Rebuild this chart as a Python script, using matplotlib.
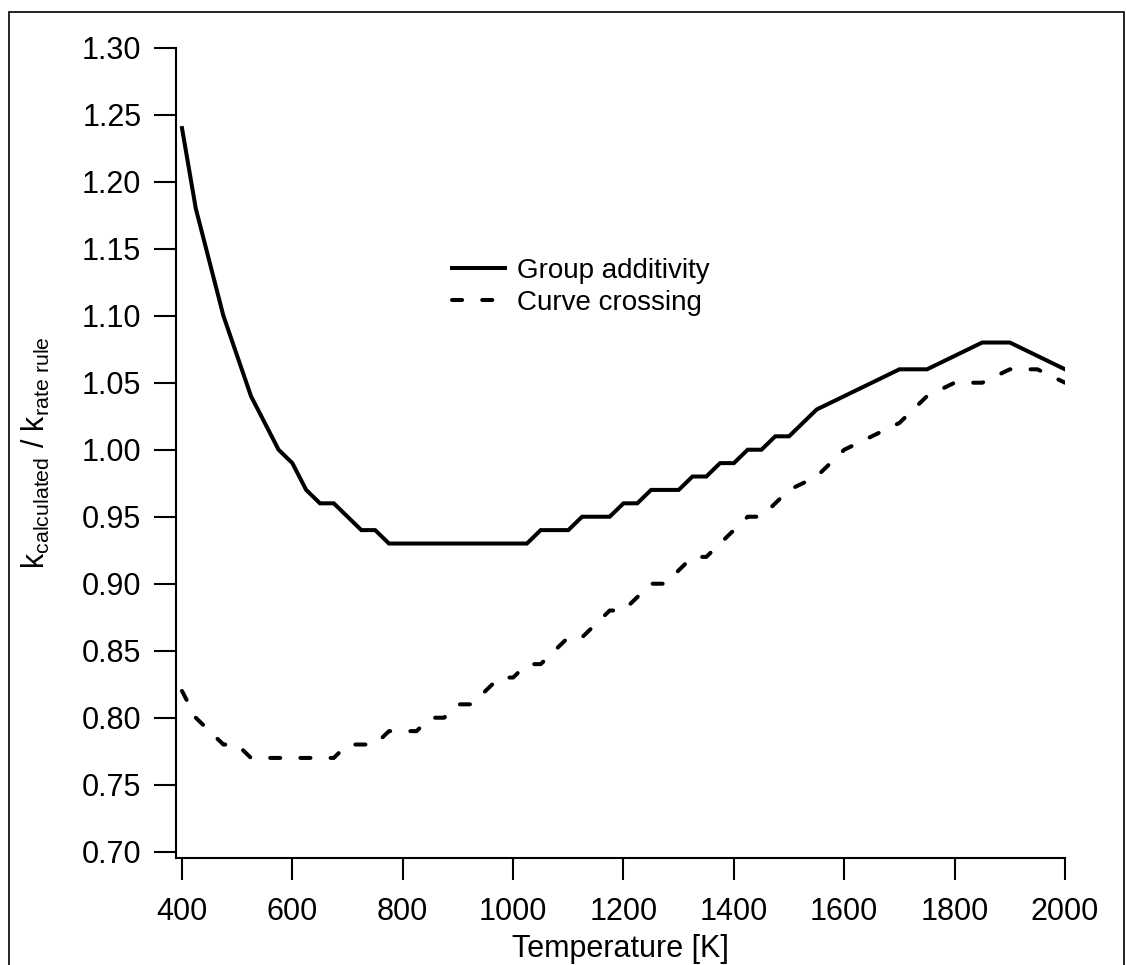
import matplotlib
matplotlib.use("Agg")
import matplotlib.pyplot as plt
from matplotlib.patches import Rectangle
from matplotlib.ticker import FormatStrFormatter

# temperature grid: 25 K steps up to 1500 K, then 50 K steps
temperature = [400, 425, 450, 475, 500, 525, 550, 575, 600, 625, 650, 675, 700,
               725, 750, 775, 800, 825, 850, 875, 900, 925, 950, 975, 1000,
               1025, 1050, 1075, 1100, 1125, 1150, 1175, 1200, 1225, 1250,
               1275, 1300, 1325, 1350, 1375, 1400, 1425, 1450, 1475, 1500,
               1550, 1600, 1650, 1700, 1750, 1800, 1850, 1900, 1950, 2000]

group_additivity = [1.24, 1.18, 1.14, 1.10, 1.07, 1.04, 1.02, 1.00, 0.99, 0.97,
                    0.96, 0.96, 0.95, 0.94, 0.94, 0.93, 0.93, 0.93, 0.93, 0.93,
                    0.93, 0.93, 0.93, 0.93, 0.93, 0.93, 0.94, 0.94, 0.94, 0.95,
                    0.95, 0.95, 0.96, 0.96, 0.97, 0.97, 0.97, 0.98, 0.98, 0.99,
                    0.99, 1.00, 1.00, 1.01, 1.01,
                    1.03, 1.04, 1.05, 1.06, 1.06, 1.07, 1.08, 1.08, 1.07, 1.06]

curve_crossing = [0.82, 0.80, 0.79, 0.78, 0.78, 0.77, 0.77, 0.77, 0.77, 0.77,
                  0.77, 0.77, 0.78, 0.78, 0.78, 0.79, 0.79, 0.79, 0.80, 0.80,
                  0.81, 0.81, 0.82, 0.83, 0.83, 0.84, 0.84, 0.85, 0.86, 0.86,
                  0.87, 0.88, 0.88, 0.89, 0.90, 0.90, 0.91, 0.92, 0.92, 0.93,
                  0.94, 0.95, 0.95, 0.96, 0.97,
                  0.98, 1.00, 1.01, 1.02, 1.04, 1.05, 1.05, 1.06, 1.06, 1.05]

x_ticks = [400, 600, 800, 1000, 1200, 1400, 1600, 1800, 2000]
y_ticks = [0.70, 0.75, 0.80, 0.85, 0.90, 0.95, 1.00, 1.05, 1.10, 1.15, 1.20, 1.25, 1.30]

plt.rcParams["font.family"] = ["Liberation Sans", "DejaVu Sans"]
plt.rcParams["mathtext.fontset"] = "custom"
plt.rcParams["mathtext.rm"] = "Liberation Sans"
plt.rcParams["mathtext.it"] = "Liberation Sans"

W, H = 1126, 965
fig = plt.figure(figsize=(W / 100, H / 100), dpi=100)

# outer frame around the figure
fig.patches.append(Rectangle((9 / W, -0.05), (1124 - 9) / W, 1.05 - 12 / H,
                             transform=fig.transFigure, fill=False,
                             edgecolor="black", linewidth=1.2))

left, right = 175.7, 1065
top, bottom = 47.7, 858.3
ax = fig.add_axes([left / W, 1 - bottom / H, (right - left) / W, (bottom - top) / H])

ax.plot(temperature, group_additivity, color="black", lw=2.9,
        solid_joinstyle="miter", label="Group additivity")
ax.plot(temperature, curve_crossing, color="black", lw=2.9,
        dashes=(2.5, 5.0), dash_capstyle="round", label="Curve crossing")

ax.set_xlim(388.6, 2000)
ax.set_ylim(0.6951, 1.30)
ax.set_xticks(x_ticks)
ax.set_yticks(y_ticks)
ax.yaxis.set_major_formatter(FormatStrFormatter("%.2f"))

for s in ["top", "right"]:
    ax.spines[s].set_visible(False)
for s in ["left", "bottom"]:
    ax.spines[s].set_linewidth(1.5)

ax.tick_params(axis="both", direction="out", length=15.8, width=1.5, labelsize=22)
ax.tick_params(axis="x", pad=12.3)
ax.tick_params(axis="y", pad=9)

ax.set_xlabel("Temperature [K]", fontsize=22, labelpad=5)
ax.set_ylabel(r"$\mathrm{k_{calculated}\ /\ k_{rate\ rule}}$", fontsize=22, labelpad=21)

ax.legend(loc="upper left", bbox_to_anchor=(452 / W, 1 - 258 / H),
          bbox_transform=fig.transFigure, frameon=False, fontsize=20,
          handlelength=1.9, handletextpad=0.45, labelspacing=0.2,
          borderpad=0, borderaxespad=0)

plt.savefig("out.png", dpi=100)
plt.close()
